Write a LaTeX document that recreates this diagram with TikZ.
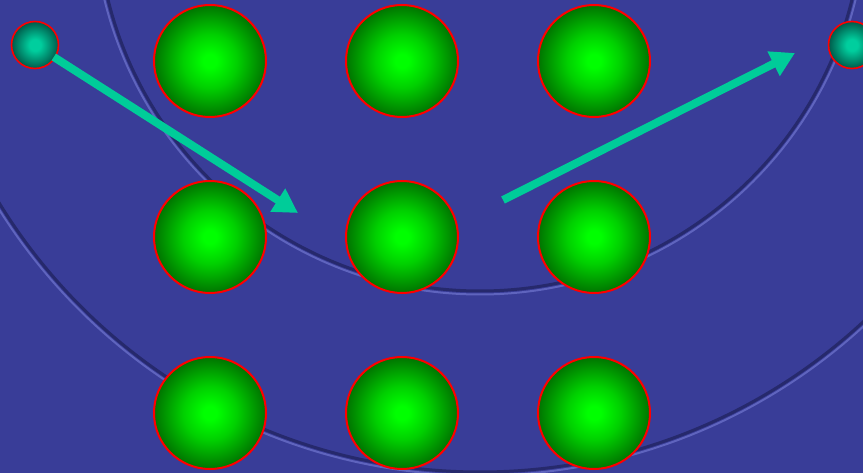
\documentclass[tikz,border=0pt]{standalone}
\usepackage{xcolor}
\usepackage{tikz}
\usetikzlibrary{arrows.meta}

\definecolor{bgblue}{RGB}{57,61,152}
\definecolor{embdark}{RGB}{38,41,108}
\definecolor{emblight}{RGB}{95,100,190}
\definecolor{arrowteal}{RGB}{0,204,153}
\definecolor{ballhi}{RGB}{0,255,0}
\definecolor{ballmid}{RGB}{0,208,0}
\definecolor{balllo}{RGB}{0,116,0}
\definecolor{tealhi}{RGB}{0,206,158}
\definecolor{teallo}{RGB}{0,90,74}

\pgfdeclareradialshading{greenball}{\pgfpoint{0bp}{0bp}}{%
  color(0bp)=(ballhi); color(3bp)=(ballhi); color(12bp)=(ballmid);
  color(25bp)=(balllo); color(50bp)=(balllo)}
\pgfdeclareradialshading{tealball}{\pgfpoint{0bp}{0bp}}{%
  color(0bp)=(tealhi); color(6bp)=(tealhi); color(25bp)=(teallo); color(50bp)=(teallo)}

\tikzset{
  ball/.style={circle, draw=red, line width=2pt, minimum size=112pt,
    inner sep=0pt, shading=greenball},
  endball/.style={circle, draw=red, line width=1.6pt, minimum size=47pt,
    inner sep=0pt, shading=tealball},
  jump/.style={arrowteal, line width=8pt,
    -{Triangle[length=24pt,width=26pt]}}
}

\begin{document}
\begin{tikzpicture}[x=1pt,y=-1pt]
        \useasboundingbox (0,0) rectangle (863,473);
        \clip (0,0) rectangle (863,473);

        % Background with embossed seal rings
        \fill[bgblue] (0,0) rectangle (863,473);
        \draw[embdark, line width=3pt] (480,-92) circle (383);
        \draw[emblight, line width=2pt] (480,-92) circle (386.5);
        \draw[embdark, line width=3pt] (480,-92) circle (564);
        \draw[emblight, line width=2pt] (480,-92) circle (567.5);

        % Grid of balls
        \node[ball] (b11) at (210, 61) {};
        \node[ball] (b12) at (402, 61) {};
        \node[ball] (b13) at (594, 61) {};
        \node[ball] (b21) at (210,237) {};
        \node[ball] (b22) at (402,237) {};
        \node[ball] (b23) at (594,237) {};
        \node[ball] (b31) at (210,413) {};
        \node[ball] (b32) at (402,413) {};
        \node[ball] (b33) at (594,413) {};

        % Start and end balls
        \node[endball] (start) at (35,45) {};
        \node[endball] (goal) at (852,45) {};

        % Jumps
        \coordinate (land) at (298,213);
        \coordinate (takeoff) at (503,200);
        \coordinate (aim) at (795,53);
        \draw[jump, shorten <=-2pt] (start) -- (land);
        \draw[jump] (takeoff) -- (aim);
    \end{tikzpicture}
\end{document}
